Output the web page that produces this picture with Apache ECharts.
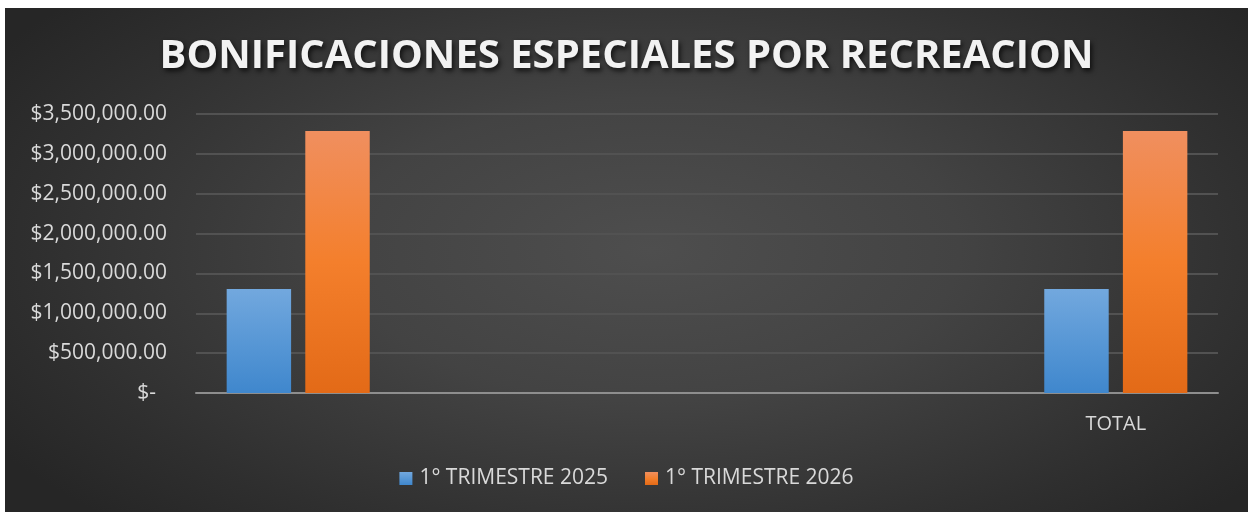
<!DOCTYPE html>
<html>
<head>
<meta charset="utf-8">
<script src="https://cdn.jsdelivr.net/npm/echarts@6/dist/echarts.min.js"></script>
<style>
  html, body { margin: 0; padding: 0; background: #fff; }
  #chart {
    position: absolute; left: 5px; top: 8px; width: 1243px; height: 504px;
    background: radial-gradient(ellipse 62% 75% at 52% 48%, #4e4e4e 0%, #434343 40%, #2f2f2f 80%, #262626 100%);
  }
</style>
</head>
<body>
<div id="chart"></div>
<script>
var titleText = 'BONIFICACIONES ESPECIALES POR RECREACION';
var categories = ['', '', '', '', 'TOTAL'];
var seriesNames = ['1° TRIMESTRE 2025', '1° TRIMESTRE 2026'];
var values2025 = [1305000, null, null, null, 1305000];
var values2026 = [3287000, null, null, null, 3287000];
var yTicks = [0, 500000, 1000000, 1500000, 2000000, 2500000, 3000000, 3500000];

var chart = echarts.init(document.getElementById('chart'));

function money(v) {
    if (v === 0) return '$-  ';
    return '$' + v.toLocaleString('en-US', { minimumFractionDigits: 2, maximumFractionDigits: 2 });
}

var blue = new echarts.graphic.LinearGradient(0, 0, 0, 1, [
    { offset: 0, color: '#72a8de' },
    { offset: 1, color: '#3f87cd' }
]);
var orange = new echarts.graphic.LinearGradient(0, 0, 0, 1, [
    { offset: 0, color: '#f08f5f' },
    { offset: 0.5, color: '#f47f2c' },
    { offset: 1, color: '#e36a17' }
]);

chart.setOption({
    backgroundColor: 'transparent',
    textStyle: { fontFamily: 'Open Sans' },
    title: {
        text: titleText,
        left: 'center',
        top: 24,
        textStyle: {
            color: '#f2f2f2',
            fontFamily: 'Open Sans',
            fontWeight: 'bold',
            fontSize: 40,
            textShadowColor: 'rgba(0,0,0,0.7)',
            textShadowBlur: 5,
            textShadowOffsetX: 2,
            textShadowOffsetY: 3
        }
    },
    grid: { left: 191, right: 30, top: 106, bottom: 119 },
    legend: {
        data: seriesNames,
        top: 455,
        left: 'center',
        icon: 'rect',
        itemWidth: 13,
        itemHeight: 13,
        itemGap: 37,
        textStyle: { color: '#d9d9d9', fontSize: 21, padding: [0, 0, 0, 2] }
    },
    xAxis: {
        type: 'category',
        data: categories,
        axisLine: { lineStyle: { color: '#8e8e8e', width: 2 } },
        axisTick: { show: false },
        axisLabel: { color: '#d9d9d9', fontSize: 20, margin: 21, interval: 0 }
    },
    yAxis: {
        type: 'value',
        min: yTicks[0],
        max: yTicks[yTicks.length - 1],
        interval: yTicks[1] - yTicks[0],
        axisLine: { show: false },
        axisTick: { show: false },
        splitLine: { lineStyle: { color: '#525252', width: 2 } },
        axisLabel: { color: '#d9d9d9', fontSize: 21, margin: 29, formatter: money }
    },
    series: [
        {
            name: seriesNames[0],
            type: 'bar',
            data: values2025,
            barGap: '22%',
            barCategoryGap: '30%',
            itemStyle: { color: blue, shadowColor: 'rgba(0,0,0,0.55)', shadowBlur: 8, shadowOffsetX: 1, shadowOffsetY: 2 }
        },
        {
            name: seriesNames[1],
            type: 'bar',
            data: values2026,
            barGap: '22%',
            barCategoryGap: '30%',
            itemStyle: { color: orange, shadowColor: 'rgba(0,0,0,0.55)', shadowBlur: 8, shadowOffsetX: 1, shadowOffsetY: 2 }
        }
    ]
});
</script>
</body>
</html>
